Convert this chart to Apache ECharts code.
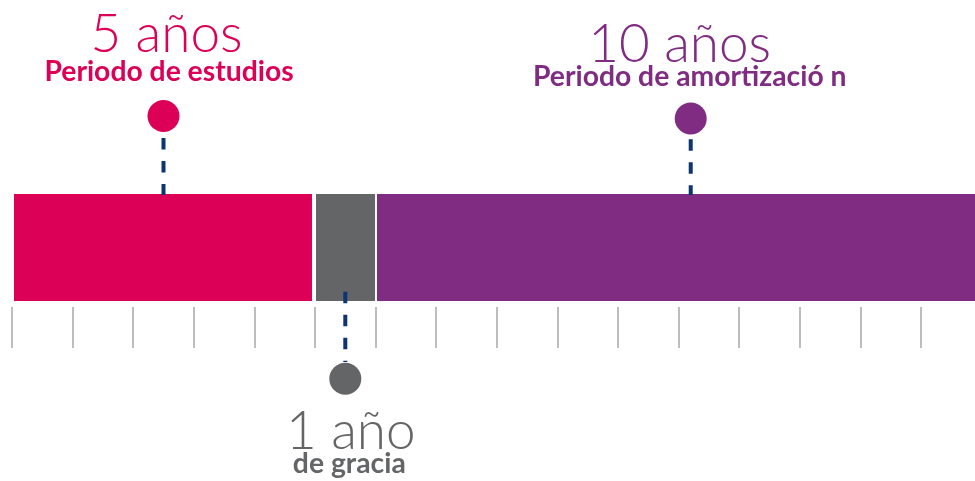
<!DOCTYPE html>
<html><head><meta charset="utf-8">
<script src="https://cdn.jsdelivr.net/npm/echarts@6/dist/echarts.min.js"></script>
<style>html,body{margin:0;padding:0;background:#fff}#c{width:975px;height:481px}</style>
</head><body><div id="c"></div>
<script>
// ---- data ----
const periods = ['Periodo de estudios', 'de gracia', 'Periodo de amortizació n'];
const yearLabels = ['5 años', '1 año', '10 años'];
const durations = [5, 1, 10];
const markerYears = [2.5, 5.5, 11.2];
const axisMin = 0, axisMax = 16, tickStep = 1;

// ---- styles / layout ----
const colors = ['#dc0057', '#646567', '#7f2c82'];
const dashColor = '#0d3570';
const barInsets = [[2, 3], [1, 0.6], [1.4, 0]];
const annotLayout = [
  {side: 'top', circle: -78, lineFrom: -56, lineTo: 1, big: -141, bigDx: 3, sub: -113, subDx: 5.5},
  {side: 'bottom', circle: 77.7, lineFrom: -9.3, lineTo: 61, big: 149, bigDx: 5.5, sub: 172, subDx: 4},
  {side: 'top', circle: -75.5, lineFrom: -54.7, lineTo: 1, big: -130.7, bigDx: -11, sub: -108, subDx: -1}
];
const bigFont = 53, subFont = 28.3;

const starts = [];
durations.reduce((acc, d) => { starts.push(acc); return acc + d; }, 0);
const barData = durations.map((d, i) => [starts[i], starts[i] + d, i]);
const annotData = markerYears.map((y, i) => [y, i]);

const gridBase = {left: 12, width: 969.6, outerBoundsMode: 'none', containLabel: false};
const chart = echarts.init(document.getElementById('c'), null, {renderer: 'canvas'});
chart.setOption({
  animation: false,
  grid: [
    Object.assign({top: 194, height: 107}, gridBase),
    Object.assign({top: 300, height: 7}, gridBase)
  ],
  xAxis: [
    {type: 'value', gridIndex: 0, min: axisMin, max: axisMax, interval: tickStep, show: false},
    {
      type: 'value', gridIndex: 1, min: axisMin, max: axisMax, interval: tickStep, position: 'bottom',
      axisLine: {show: false}, axisLabel: {show: false}, splitLine: {show: false},
      axisTick: {show: true, length: 41, lineStyle: {color: '#bdbdbd', width: 2}}
    }
  ],
  yAxis: [
    {type: 'value', gridIndex: 0, min: 0, max: 1, show: false},
    {type: 'value', gridIndex: 1, min: 0, max: 1, show: false}
  ],
  series: [
    {
      type: 'custom', data: barData, encode: {x: [0, 1]}, z: 1,
      renderItem(params, api) {
        const s = api.value(0), e = api.value(1), i = api.value(2);
        const p0 = api.coord([s, 1]), p1 = api.coord([e, 0]);
        const ins = barInsets[i];
        return {type: 'rect', shape: {x: p0[0] + ins[0], y: p0[1], width: p1[0] - p0[0] - ins[0] - ins[1], height: p1[1] - p0[1]},
          style: {fill: colors[i]}};
      }
    },
    {
      type: 'custom', data: annotData, encode: {x: 0}, z: 5,
      renderItem(params, api) {
        const x = api.value(0), i = api.value(1);
        const top = api.coord([x, 1]), bot = api.coord([x, 0]);
        const L = annotLayout[i];
        const ref = L.side === 'top' ? top[1] : bot[1];
        const cx = top[0];
        const bigY = ref + L.big - bigFont * 0.34;
        const subY = ref + L.sub - subFont * 0.34;
        return {type: 'group', children: [
          {type: 'line', shape: {x1: cx, y1: ref + L.lineFrom, x2: cx, y2: ref + L.lineTo},
            style: {stroke: dashColor, lineWidth: 4, lineDash: [11.5, 11.5], lineCap: 'butt'}},
          {type: 'circle', shape: {cx: cx, cy: ref + L.circle, r: 16}, style: {fill: colors[i]}},
          {type: 'text', style: {text: yearLabels[i], x: cx + L.bigDx, y: bigY, fill: colors[i],
            font: '300 ' + bigFont + 'px Lato', align: 'center', verticalAlign: 'middle'}},
          {type: 'text', style: {text: periods[i], x: cx + L.subDx, y: subY, fill: colors[i],
            font: 'bold ' + subFont + 'px Lato', align: 'center', verticalAlign: 'middle'}}
        ]};
      }
    }
  ]
});
</script>
</body></html>
